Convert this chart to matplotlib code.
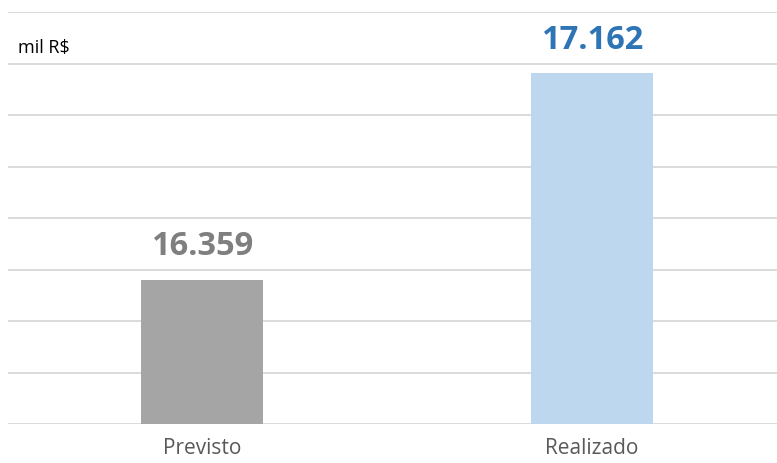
import numpy as np
import matplotlib.pyplot as plt

plt.rcParams['font.family'] = ['Open Sans', 'DejaVu Sans']

categorias = ['Previsto', 'Realizado']
valores = [16.359, 17.162]
rotulos = ['16.359', '17.162']
cores_barra = ['#A5A5A5', '#BDD7EE']
cores_rotulo = ['#7F7F7F', '#2E75B6']

fig = plt.figure(figsize=(7.77, 4.63), dpi=100)
ax = fig.add_axes([8 / 777, 39 / 463, 769 / 777, (424 - 12) / 463])

x = np.arange(len(categorias))
ax.bar(x, valores, width=0.313, color=cores_barra, zorder=3)

for xi, v, r, c in zip(x, valores, rotulos, cores_rotulo):
    ax.annotate(r, (xi, v), xytext=(0, 12), textcoords='offset points',
                ha='center', va='bottom', fontsize=23.5, fontweight='bold', color=c)

ax.set_ylim(15.8, 17.4)
ax.set_xlim(-0.497, 1.475)
ax.set_yticks(np.arange(15.8, 17.41, 0.2))
ax.yaxis.grid(True, color='#D9D9D9', linewidth=1.3)
ax.set_yticklabels([])
ax.tick_params(axis='both', length=0)
ax.set_xticks(x)
ax.set_xticklabels(categorias, fontsize=15, color='#595959')
ax.tick_params(axis='x', pad=10)
for s in ax.spines.values():
    s.set_visible(False)

fig.text(18 / 777, 1 - 48 / 463, 'mil R$', fontsize=13, color='#000000', va='center')

plt.savefig('out.png', dpi=100)
